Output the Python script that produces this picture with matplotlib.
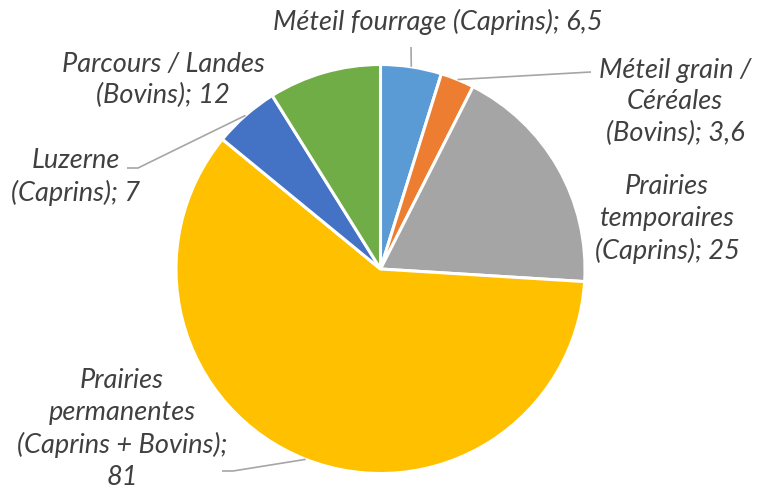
import numpy as np
import matplotlib; matplotlib.use("Agg")
import matplotlib.pyplot as plt

# donnees (surfaces)
labels = ["Méteil fourrage (Caprins)", "Méteil grain /\nCéréales\n(Bovins)",
          "Prairies\ntemporaires\n(Caprins)", "Prairies\npermanentes\n(Caprins + Bovins);\n",
          "Luzerne\n(Caprins)", "Parcours / Landes\n(Bovins)"]
values = [6.5, 3.6, 25, 81, 7, 12]
val_txt = ["6,5", "3,6", "25", "81", "7", "12"]
colors = ["#5B9BD5", "#ED7D31", "#A5A5A5", "#FFC000", "#4472C4", "#70AD47"]

W, H = 762, 494
CX, CY, R = 380.5, 269, 204.5

def p2d(x, y):
    # pixel (haut-gauche) -> unites du camembert
    return (x - CX) / R, (CY - y) / R

fig = plt.figure(figsize=(W/100, H/100), dpi=100)
ax = fig.add_axes([0, 0, 1, 1])
wedges, _ = ax.pie(values, colors=colors, startangle=90, counterclock=False,
                   wedgeprops=dict(edgecolor="white", linewidth=2.2))
ax.set_xlim(p2d(0, 0)[0], p2d(W, 0)[0])
ax.set_ylim(p2d(0, H)[1], p2d(0, 0)[1])
ax.set_aspect("equal")
ax.axis("off")

# texte des etiquettes
txt = []
for lab, v in zip(labels, val_txt):
    if lab.endswith("\n"):
        txt.append(lab + v)
    else:
        txt.append(lab + "; " + v)

pos = [(438, 22), (675, 102), (667, 219), (122, 429), (76, 177), (163, 80)]
fkw = dict(family=["Lato", "DejaVu Sans"], style="italic", fontsize=19.5,
           color="#404040", ha="center", va="center", linespacing=1.33)
for t, (px, py) in zip(txt, pos):
    ax.text(*p2d(px, py), t, **fkw)

def edge(i):
    w = wedges[i]
    a = np.deg2rad((w.theta1 + w.theta2) / 2)
    return np.cos(a), np.sin(a)

lc = dict(color="#A6A6A6", linewidth=1.2, solid_capstyle="butt")
# lignes de rappel
pts = {0: [(411, 47)], 1: [(591, 72)], 4: [(127, 168), (138, 168)], 3: [(222, 471), (233, 471)]}
for i, pp in pts.items():
    xs = [p2d(*p)[0] for p in pp] + [edge(i)[0]]
    ys = [p2d(*p)[1] for p in pp] + [edge(i)[1]]
    ax.plot(xs, ys, **lc)

fig.savefig("out.png", dpi=100, facecolor="white")
